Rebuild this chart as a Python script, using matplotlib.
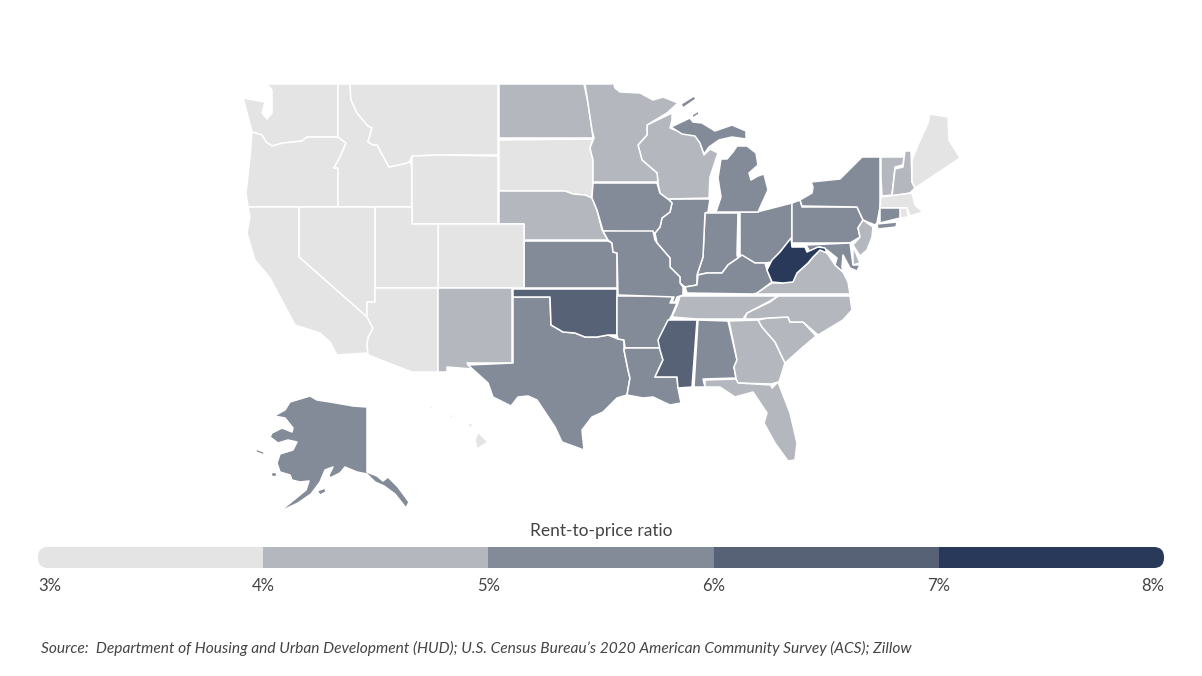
import matplotlib
matplotlib.use("Agg")
import matplotlib.pyplot as plt
import numpy as np
from matplotlib.collections import PatchCollection
from matplotlib.colors import BoundaryNorm, ListedColormap
from matplotlib.patches import FancyBboxPatch, Polygon

# bins of the legend
BIN_EDGES = [3, 4, 5, 6, 7, 8]
BIN_COLORS = ["#e4e4e5", "#b5b7bf", "#838b99", "#586277", "#29395a"]
TICK_LABELS = ["3%", "4%", "5%", "6%", "7%", "8%"]
LEGEND_TITLE = "Rent-to-price ratio"
SOURCE = ("Source:  Department of Housing and Urban Development (HUD); U.S. Census "
          "Bureau\u2019s 2020 American Community Survey (ACS); Zillow")

# only the bin can be read off the map, so each ratio is an estimate inside its bin
RATIO = {
    "WA": 3.5, "OR": 3.5, "CA": 3.5, "ID": 3.5, "NV": 3.5, "MT": 3.5, "WY": 3.5,
    "UT": 3.5, "AZ": 3.5, "CO": 3.5, "SD": 3.5, "ME": 3.5, "MA": 3.5, "RI": 3.5,
    "HI": 3.5,
    "ND": 4.5, "NE": 4.5, "NM": 4.5, "MN": 4.5, "WI": 4.5, "TN": 4.5, "VA": 4.5,
    "NC": 4.5, "SC": 4.5, "GA": 4.5, "FL": 4.5, "VT": 4.5, "NH": 4.5, "NJ": 4.5,
    "DE": 4.5,
    "IA": 5.5, "KS": 5.5, "MO": 5.5, "IL": 5.5, "IN": 5.5, "OH": 5.5, "MI": 5.5,
    "PA": 5.5, "NY": 5.5, "CT": 5.5, "KY": 5.5, "LA": 5.5, "AR": 5.5, "TX": 5.5,
    "AL": 5.5, "AK": 5.5, "MD": 5.5,
    "OK": 6.5, "MS": 6.5,
    "WV": 7.5,
}

# state outlines in image pixels (no shapefile available offline)
OUTLINES = {
    "WA": [[(267, 84), (338, 84), (338, 137), (307, 137), (302, 141), (283, 143), (272, 146),
            (266, 142), (262, 135), (252, 132), (249, 120), (243, 98), (265, 102), (262, 113),
            (267, 119), (272, 113), (272, 90)]],
    "OR": [[(252, 132), (262, 135), (266, 142), (272, 146), (283, 143), (302, 141), (307, 137),
            (338, 137), (346, 143), (340, 157), (334, 168), (338, 168), (338, 207), (248, 207),
            (246, 193), (250, 157)]],
    "ID": [[(338, 84), (350, 84), (351, 100), (357, 113), (368, 126), (372, 128), (368, 142),
            (373, 145), (377, 145), (389, 167), (407, 163), (410, 161), (412, 167), (412, 207),
            (338, 207), (338, 168), (334, 168), (340, 157), (346, 143), (338, 137)]],
    "MT": [[(350, 84), (498, 84), (498, 155), (440, 155), (412, 156), (410, 161), (407, 163),
            (389, 167), (377, 145), (373, 145), (368, 142), (372, 128), (368, 126), (357, 113),
            (351, 100)]],
    "WY": [[(412, 156), (440, 155), (498, 156), (498, 224), (412, 224)]],
    "ND": [[(499, 84), (584, 84), (588, 103), (592, 130), (593, 138), (499, 138)]],
    "SD": [[(499, 140), (593, 139), (590, 148), (593, 160), (593, 183), (592, 198), (585, 195),
            (573, 194), (565, 191), (499, 191)]],
    "NE": [[(499, 191), (565, 191), (573, 194), (585, 195), (592, 198), (597, 210), (602, 230),
            (608, 240), (524, 240), (524, 224), (499, 224)]],
    "KS": [[(524, 241), (608, 241), (612, 243), (613, 252), (617, 253), (617, 288), (524, 288)]],
    "CO": [[(438, 224), (524, 224), (524, 288), (438, 288)]],
    "UT": [[(375, 207), (412, 207), (412, 224), (438, 224), (438, 288), (375, 288)]],
    "NV": [[(299, 207), (375, 207), (375, 302), (367, 302), (367, 317), (299, 257)]],
    "CA": [[(248, 207), (299, 207), (299, 257), (367, 317), (373, 328), (368, 338), (367, 345),
            (368, 353), (337, 355), (330, 342), (320, 333), (295, 325), (270, 278), (255, 260),
            (247, 233), (250, 217)]],
    "AZ": [[(375, 288), (438, 288), (438, 372), (412, 372), (368, 355), (367, 345), (368, 338),
            (373, 328), (367, 317), (367, 302), (375, 302)]],
    "NM": [[(438, 288), (512, 288), (512, 363), (467, 363), (472, 369), (447, 367), (447, 372),
            (438, 372)]],
    "TX": [[(513, 297), (550, 297), (551, 325), (558, 329), (563, 332), (575, 333), (585, 337),
            (597, 337), (608, 335), (618, 339), (624, 340), (624, 350), (628, 370), (630, 378),
            (627, 395), (617, 398), (603, 412), (592, 417), (582, 430), (584, 450), (562, 442),
            (555, 427), (537, 400), (528, 396), (518, 397), (511, 406), (493, 397), (488, 383),
            (468, 365), (513, 363)]],
    "OK": [[(513, 289), (617, 289), (617, 335), (608, 335), (597, 337), (585, 337), (575, 333),
            (563, 332), (558, 329), (551, 325), (550, 297), (513, 297)]],
    "AR": [[(617, 296), (673, 296), (670, 303), (677, 303), (672, 315), (668, 322), (660, 340),
            (660, 348), (625, 348), (624, 340), (618, 339), (617, 335)]],
    "LA": [[(625, 348), (660, 348), (663, 360), (655, 377), (677, 377), (678, 388), (681, 403),
            (670, 405), (653, 397), (643, 398), (627, 395), (630, 378), (628, 370), (624, 350)]],
    "MS": [[(668, 320), (697, 320), (692, 387), (678, 388), (677, 377), (655, 377), (663, 360),
            (660, 350), (658, 340)]],
    "AL": [[(698, 320), (728, 321), (737, 360), (734, 367), (736, 378), (703, 379), (705, 387),
            (694, 387)]],
    "GA": [[(729, 321), (758, 320), (762, 327), (775, 342), (785, 363), (779, 382), (771, 384),
            (737, 383), (736, 378), (734, 367), (737, 360)]],
    "FL": [[(705, 380), (736, 379), (738, 383), (771, 385), (772, 388), (778, 382), (790, 413),
            (797, 443), (795, 460), (788, 461), (775, 443), (764, 423), (767, 413), (753, 392),
            (735, 397), (720, 387), (705, 387)]],
    "SC": [[(758, 320), (768, 318), (788, 317), (790, 322), (803, 322), (816, 336), (803, 347),
            (785, 363), (775, 342), (762, 327)]],
    "NC": [[(778, 296), (850, 296), (852, 310), (843, 320), (818, 335), (803, 322), (790, 322),
            (788, 317), (768, 318), (758, 319), (745, 319), (747, 313), (770, 302)]],
    "TN": [[(680, 296), (778, 296), (770, 301), (747, 313), (743, 319), (697, 319), (672, 317),
            (678, 303)]],
    "VA": [[(755, 294), (772, 283), (783, 283), (797, 273), (808, 263), (813, 257), (820, 250),
            (827, 253), (835, 265), (843, 272), (848, 282), (850, 294)]],
    "OH": [[(740, 212), (757, 212), (792, 203), (792, 238), (780, 252), (772, 262), (765, 263),
            (755, 263), (740, 255)]],
    "IN": [[(705, 213), (738, 213), (737, 255), (738, 258), (728, 265), (722, 273), (707, 273),
            (697, 275), (703, 257)]],
    "IL": [[(668, 199), (710, 199), (708, 212), (705, 213), (703, 257), (697, 275), (697, 285),
            (685, 287), (680, 283), (680, 277), (670, 267), (670, 258), (657, 243), (655, 233),
            (660, 227), (662, 218), (670, 212), (672, 203)]],
    "IA": [[(593, 183), (657, 183), (660, 193), (668, 199), (672, 203), (670, 212), (662, 218),
            (660, 227), (655, 233), (603, 231), (597, 210), (592, 198)]],
    "MO": [[(603, 231), (653, 231), (655, 240), (657, 243), (670, 258), (670, 267), (680, 277),
            (680, 283), (683, 287), (683, 295), (677, 297), (675, 302), (672, 302), (674, 297),
            (618, 295), (617, 253), (613, 252), (612, 243), (608, 240)]],
    "KY": [[(687, 293), (685, 287), (697, 285), (698, 275), (707, 273), (722, 273), (728, 265),
            (738, 258), (742, 255), (755, 263), (765, 263), (767, 270), (772, 282), (757, 293),
            (753, 294)]],
    "WI": [[(672, 113), (647, 125), (647, 135), (638, 145), (642, 160), (657, 173), (658, 183),
            (660, 193), (668, 199), (709, 198), (710, 177), (718, 153), (710, 149), (704, 155),
            (700, 142), (695, 135), (682, 133), (670, 128), (672, 120)]],
    "MN": [[(585, 84), (612, 84), (612, 78), (615, 88), (620, 92), (640, 93), (653, 100),
            (663, 97), (678, 103), (667, 113), (647, 125), (647, 135), (638, 145), (642, 160),
            (657, 173), (658, 182), (593, 182), (593, 160), (590, 148), (594, 138), (592, 130),
            (588, 103)]],
    "MI": [[(671, 127), (690, 118), (693, 122), (702, 123), (715, 131), (732, 125), (746, 131),
            (746, 139), (732, 137), (719, 140), (709, 147), (704, 154), (700, 143), (695, 136),
            (682, 134)],
           [(737, 146), (747, 146), (756, 153), (758, 165), (749, 173), (751, 180), (758, 176),
            (764, 174), (768, 190), (763, 201), (758, 212), (716, 212), (721, 197), (718, 178),
            (721, 159), (727, 159), (733, 152)],
           [(681, 104), (694, 96), (696, 99), (683, 108)],
           [(692, 115), (698, 111), (699, 114), (693, 118)]],
    "PA": [[(792, 203), (800, 200), (802, 207), (857, 207), (863, 220), (858, 228), (860, 237),
            (850, 243), (792, 243)]],
    "NY": [[(802, 206), (800, 200), (812, 193), (813, 187), (811, 182), (840, 179), (862, 157),
            (880, 157), (880, 207), (877, 223), (875, 225), (863, 220), (857, 207)],
           [(877, 224), (897, 222), (896, 227), (878, 229)]],
    "NJ": [[(863, 220), (873, 227), (872, 237), (867, 250), (860, 256), (853, 245), (860, 237),
            (858, 228)]],
    "DE": [[(853, 246), (860, 263), (853, 265)]],
    "MD": [[(806, 245), (850, 243), (853, 265), (860, 265), (857, 271), (850, 268), (843, 255),
            (842, 267), (843, 272), (835, 265), (837, 258), (827, 250), (820, 247), (810, 252)]],
    "VT": [[(881, 157), (904, 157), (903, 165), (895, 167), (892, 195), (882, 196), (881, 178)]],
    "NH": [[(905, 151), (911, 151), (912, 182), (915, 188), (910, 193), (892, 196), (895, 169),
            (903, 167)]],
    "ME": [[(930, 114), (948, 117), (949, 140), (960, 158), (915, 188), (912, 182), (912, 160),
            (918, 145), (928, 123)]],
    "MA": [[(881, 197), (912, 193), (915, 205), (923, 212), (910, 216), (907, 208), (880, 208)]],
    "RI": [[(900, 208), (907, 208), (908, 217), (900, 218)]],
    "CT": [[(880, 208), (900, 208), (900, 218), (880, 223)]],
    "HI": [[(478, 432), (488, 442), (477, 449), (475, 440)],
           [(429, 405), (433, 407), (431, 410)],
           [(448, 413), (453, 416), (451, 419)],
           [(467, 422), (474, 425), (470, 428)]],
    "AK": [[(310, 396), (317, 400), (330, 402), (353, 406), (367, 407), (367, 472), (377, 476),
            (383, 481), (388, 477), (398, 487), (409, 502), (406, 508), (395, 494), (384, 486),
            (375, 482), (367, 474), (357, 472), (345, 467), (340, 473), (330, 478), (329, 475),
            (333, 467), (325, 470), (320, 482), (311, 494), (298, 503), (279, 512), (295, 499),
            (306, 490), (309, 481), (300, 482), (292, 480), (290, 475), (280, 472), (277, 463),
            (280, 454), (293, 450), (297, 442), (288, 440), (278, 443), (270, 437), (272, 433),
            (282, 428), (292, 432), (293, 428), (285, 418), (274, 416), (285, 410), (290, 402)],
           [(256, 449), (264, 452), (264, 455), (256, 452)],
           [(272, 472), (277, 473), (276, 477), (271, 476)],
           [(317, 491), (325, 488), (326, 492), (320, 495)]],
    "WV": [[(791, 238), (792, 247), (805, 247), (807, 252), (818, 247), (825, 248), (827, 253),
            (820, 250), (813, 257), (808, 263), (797, 273), (793, 282), (783, 283), (772, 282),
            (767, 270), (772, 260), (780, 252)]],
}

plt.rcParams["font.family"] = ["Lato", "DejaVu Sans"]

fig = plt.figure(figsize=(12.02, 6.76), dpi=100)
ax = fig.add_axes([0, 0, 1, 1])
ax.set_xlim(0, 1202)
ax.set_ylim(676, 0)
ax.axis("off")

cmap = ListedColormap(BIN_COLORS)
norm = BoundaryNorm(BIN_EDGES, cmap.N)

patches = []
values = []
for state, parts in OUTLINES.items():
    for part in parts:
        patches.append(Polygon(part, closed=True))
        values.append(RATIO[state])
states = PatchCollection(patches, cmap=cmap, norm=norm, edgecolor="white", linewidth=1.1)
states.set_array(np.array(values))
ax.add_collection(states)

# legend bar: its own axes so the bins sit on a real 3-8 scale
bar = fig.add_axes([38 / 1202, 1 - 568 / 676, 1126 / 1202, 21 / 676])
mesh = bar.pcolormesh(BIN_EDGES, [0, 1], [[e + 0.5 for e in BIN_EDGES[:-1]]], cmap=cmap, norm=norm)
for side in bar.spines.values():
    side.set_visible(False)
bar.set_yticks([])
bar.set_xticks(BIN_EDGES)
bar.set_xticklabels(TICK_LABELS, fontsize=12, color="#444444")
bar.tick_params(axis="x", length=0, pad=7)
tick_text = bar.get_xticklabels()
tick_text[0].set_ha("left")
tick_text[-1].set_ha("right")
rounded = FancyBboxPatch((48, 557), 1106, 1, boxstyle="round,pad=10,rounding_size=10",
                         transform=ax.transData, facecolor="none", edgecolor="none")
ax.add_patch(rounded)
mesh.set_clip_path(rounded)

ax.text(601, 531, LEGEND_TITLE, fontsize=12.5, color="#444444", ha="center", va="center")
ax.text(41, 648, SOURCE, fontsize=11.15, style="italic", color="#444444", ha="left", va="center")

fig.savefig("out.png", dpi=100)
